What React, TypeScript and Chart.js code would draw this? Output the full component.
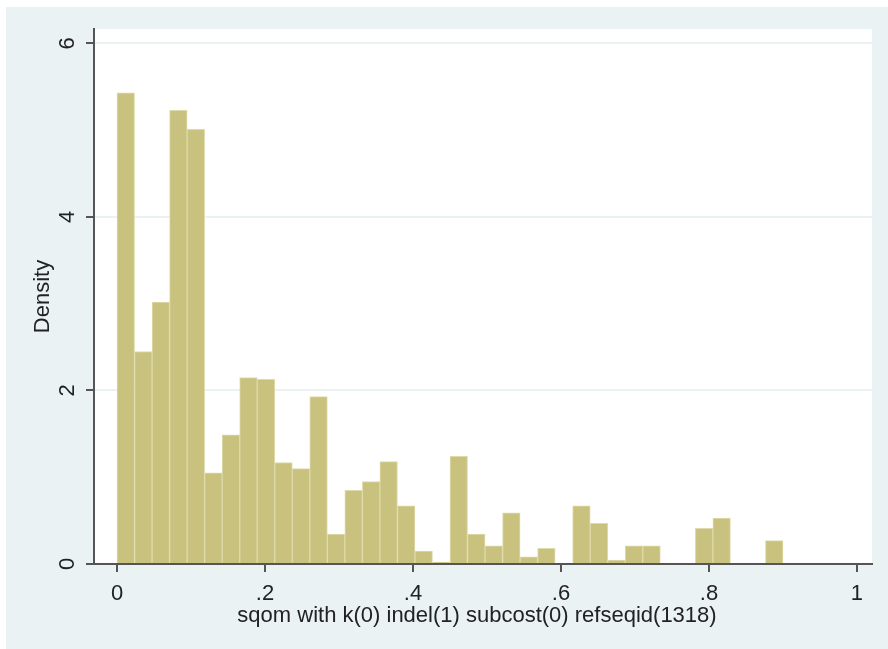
import { useEffect, useRef } from 'react';
import { Chart, registerables } from 'chart.js';

Chart.register(...registerables);

// Histogram of sqom distances: density per bin (38 equal bins from 0 to 0.9)
const binMin = 0;
const binMax = 0.9;
const densityValues = [
  5.43, 2.45, 3.02, 5.23, 5.01, 1.05, 1.49, 2.15, 2.13, 1.17,
  1.10, 1.93, 0.345, 0.85, 0.95, 1.18, 0.67, 0.15, 0.023, 1.24,
  0.345, 0.21, 0.59, 0.084, 0.18, 0, 0.67, 0.47, 0.046, 0.21,
  0.21, 0, 0, 0.41, 0.53, 0, 0, 0.27,
];
const binWidth = (binMax - binMin) / densityValues.length;

const xTickValues = [0, 0.2, 0.4, 0.6, 0.8, 1];
const xTickLabels = ['0', '.2', '.4', '.6', '.8', '1'];
const yTickValues = [0, 2, 4, 6];
const yTickLabels = ['0', '2', '4', '6'];

const xTitle = 'sqom with k(0) indel(1) subcost(0) refseqid(1318)';
const yTitle = 'Density';

const BG = '#EAF2F3';
const GRID = '#EAF2F3';
const AXIS = '#555555';
const BAR_FILL = '#C9C27F';
const BAR_EDGE = '#DEDAAA';
const TEXT = '#222222';
const FONT = '22px "Liberation Sans", Arial, sans-serif';

const plotBackground = {
  id: 'plotBackground',
  beforeDraw(chart: any) {
    const { ctx, chartArea } = chart;
    ctx.save();
    ctx.fillStyle = '#ffffff';
    ctx.fillRect(chartArea.left, chartArea.top, chartArea.right - chartArea.left, chartArea.bottom - chartArea.top);
    ctx.restore();
  },
};

const axisText = {
  id: 'axisText',
  afterDraw(chart: any) {
    const { ctx, chartArea } = chart;
    const xs = chart.scales.x;
    const ys = chart.scales.y;
    ctx.save();
    ctx.fillStyle = TEXT;
    ctx.font = FONT;
    ctx.textBaseline = 'alphabetic';
    ctx.textAlign = 'center';

    xTickValues.forEach((v, i) => {
      ctx.fillText(xTickLabels[i], xs.getPixelForValue(v), chartArea.bottom + 36);
    });

    yTickValues.forEach((v, i) => {
      ctx.save();
      ctx.translate(chartArea.left - 20, ys.getPixelForValue(v));
      ctx.rotate(-Math.PI / 2);
      ctx.fillText(yTickLabels[i], 0, 0);
      ctx.restore();
    });

    ctx.fillText(xTitle, (chartArea.left + chartArea.right) / 2 - 6, chartArea.bottom + 57.5);

    ctx.save();
    ctx.translate(chartArea.left - 45, (chartArea.top + chartArea.bottom) / 2);
    ctx.rotate(-Math.PI / 2);
    ctx.fillText(yTitle, 0, 0);
    ctx.restore();

    ctx.restore();
  },
};

export default function App() {
  const canvasRef = useRef<HTMLCanvasElement>(null);

  useEffect(() => {
    if (!canvasRef.current) return;
    const chart = new Chart(canvasRef.current, {
      type: 'bar',
      data: {
        datasets: [
          {
            data: densityValues.map((y, i) => ({ x: binMin + (i + 0.5) * binWidth, y })),
            backgroundColor: BAR_FILL,
            borderColor: BAR_EDGE,
            borderWidth: 1,
            borderSkipped: 'start',
            barPercentage: 1,
            categoryPercentage: 1,
          } as any,
        ],
      },
      options: {
        animation: false,
        responsive: false,
        maintainAspectRatio: false,
        layout: { padding: { top: 22, right: 16, left: 0, bottom: 0 } },
        plugins: {
          legend: { display: false },
          tooltip: { enabled: false },
        },
        scales: {
          x: {
            type: 'linear',
            min: -0.0311,
            max: 1.0203,
            offset: false,
            afterBuildTicks: (s: any) => {
              s.ticks = xTickValues.map((value) => ({ value }));
            },
            afterFit: (s: any) => {
              s.height = 85;
            },
            ticks: { display: false },
            grid: {
              offset: false,
              drawOnChartArea: false,
              drawTicks: true,
              tickLength: 8,
              tickColor: AXIS,
              lineWidth: 2,
            },
            border: { color: AXIS, width: 2 },
          },
          y: {
            type: 'linear',
            min: 0,
            max: 6.167,
            afterBuildTicks: (s: any) => {
              s.ticks = yTickValues.map((value) => ({ value }));
            },
            afterFit: (s: any) => {
              s.width = 88;
            },
            ticks: { display: false },
            grid: {
              color: GRID,
              tickColor: AXIS,
              drawTicks: true,
              tickLength: 8,
              lineWidth: 2,
            },
            border: { color: AXIS, width: 2 },
          },
        },
      } as any,
      plugins: [plotBackground, axisText],
    });
    return () => chart.destroy();
  }, []);

  return (
    <div style={{ position: 'absolute', left: 0, top: 0, width: 888, height: 649, background: '#ffffff' }}>
      <div style={{ position: 'absolute', left: 6, top: 7, width: 882, height: 642, background: BG }}>
        <canvas ref={canvasRef} width={882} height={642} style={{ display: 'block', width: 882, height: 642 }} />
      </div>
    </div>
  );
}
